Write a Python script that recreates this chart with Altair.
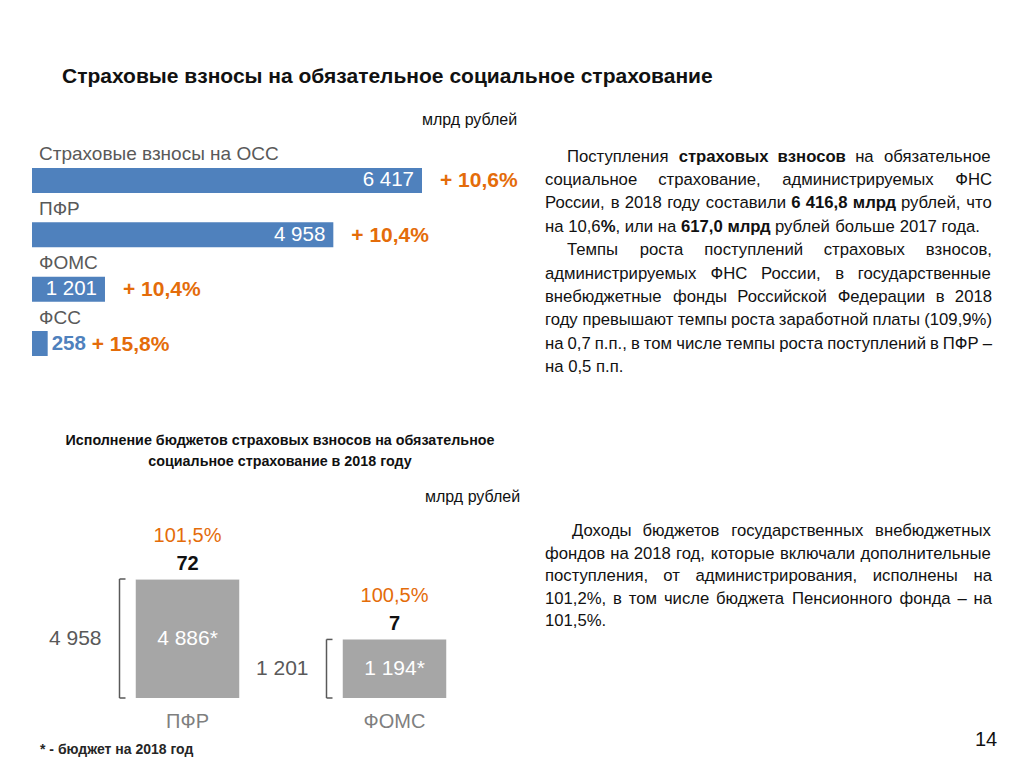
import altair as alt
import pandas as pd

# ---------------- data ----------------
osc_categories = ["Страховые взносы на ОСС", "ПФР", "ФОМС", "ФСС"]
osc_values = [6417, 4958, 1201, 258]
osc_value_labels = ["6 417", "4 958", "1 201", "258"]
osc_growth = ["+ 10,6%", "+ 10,4%", "+ 10,4%", "+ 15,8%"]

fund_names = ["ПФР", "ФОМС"]
fund_budget = [4886, 1194]
fund_extra = [72, 7]
fund_total = [4958, 1201]
fund_budget_labels = ["4 886*", "1 194*"]
fund_total_labels = ["4 958", "1 201"]
fund_execution = ["101,5%", "100,5%"]

# right-hand text, one string per printed line ("**" marks bold)
para_a = [
    "Поступления **страховых взносов** на обязательное",
    "социальное страхование, администрируемых ФНС",
    "России, в 2018 году составили **6 416,8 млрд** рублей, что",
    "на 10,6**%**, или на **617,0 млрд** рублей больше 2017 года.",
]
para_b = [
    "Темпы роста поступлений страховых взносов,",
    "администрируемых ФНС России, в государственные",
    "внебюджетные фонды Российской Федерации в 2018",
    "году превышают темпы роста заработной платы (109,9%)",
    "на 0,7 п.п., в том числе темпы роста поступлений в ПФР –",
    "на 0,5 п.п.",
]
para_c = [
    "Доходы бюджетов государственных внебюджетных",
    "фондов на 2018 год, которые включали дополнительные",
    "поступления, от администрирования, исполнены на",
    "101,2%, в том числе бюджета Пенсионного фонда – на",
    "101,5%.",
]

# ---------------- style ----------------
FONT = "Liberation Sans, Arial, Helvetica, sans-serif"
BLUE = "#4F81BD"
ORANGE = "#E46C0A"
BAR_GRAY = "#A6A6A6"
DARK_GRAY = "#595959"
MID_GRAY = "#7F7F7F"
TXT = "#111111"
OFF = 8  # page margin
BODY_SIZE = 16.7


def P(v):
    return v - OFF


def txt(s, x, y, size, weight="normal", color=TXT, align="left"):
    return alt.Chart(alt.Data(values=[{}])).mark_text(
        text=s, align=align, baseline="middle", fontSize=size,
        fontWeight=weight, color=color, font=FONT
    ).encode(x=alt.value(P(x)), y=alt.value(P(y)))


# approximate advance widths (per 1000 em) for Arial-metric fonts, used to justify lines
_lc = "абвгдеёжзийклмнопрстуфхцчшщъыьэюя"
_uc = "АБВГДЕЁЖЗИЙКЛМНОПРСТУФХЦЧШЩЪЫЬЭЮЯ"
REG = dict(zip(_lc, [556, 573, 531, 365, 583, 556, 556, 669, 458, 559, 559, 438, 583, 688, 552, 556, 542,
                     556, 500, 458, 500, 823, 500, 573, 521, 802, 823, 625, 719, 521, 510, 750, 542]))
REG.update(zip(_uc, [667, 656, 667, 542, 677, 667, 667, 923, 604, 719, 719, 583, 656, 833, 722, 778, 719,
                     667, 722, 611, 635, 760, 667, 740, 667, 917, 938, 792, 885, 656, 719, 1010, 722]))
BOLD = dict(zip(_lc, [556, 604, 563, 406, 615, 556, 556, 833, 510, 615, 615, 490, 615, 729, 615, 611, 615,
                      611, 556, 469, 556, 885, 556, 625, 583, 854, 875, 719, 823, 583, 563, 875, 594]))
BOLD.update({c: REG[c] * 1.05 for c in _uc})
for d in (REG, BOLD):
    d.update({c: 556 for c in "0123456789"})
    d.update({" ": 278, ",": 278, ".": 278, "%": 889, "(": 333, ")": 333, "–": 556, "-": 333})


def tw(s, bold):
    d = BOLD if bold else REG
    return sum(d.get(c, 556) for c in s) * BODY_SIZE / 1000.0


def parse(line):
    runs = [(p, i % 2 == 1) for i, p in enumerate(line.split("**")) if p]
    words, cur = [], []
    for text, b in runs:
        for k, piece in enumerate(text.split(" ")):
            if k > 0 and cur:
                words.append(cur)
                cur = []
            if piece:
                cur.append((piece, b))
    if cur:
        words.append(cur)
    return words


def layout(lines, y0, step, left, indent, right, rows):
    sp = tw(" ", False)
    for i, line in enumerate(lines):
        words = parse(line)
        widths = [sum(tw(t, b) for t, b in w) for w in words]
        start = left + (indent if i == 0 else 0)
        if i == len(lines) - 1 or len(words) == 1:
            gap = sp
        else:
            gap = max((right - start - sum(widths)) / (len(words) - 1), 0.7 * sp)
        x = start
        y = y0 + i * step
        for w, ww in zip(words, widths):
            xx = x
            for t, b in w:
                rows.append({"px": P(xx), "py": P(y), "t": t, "bold": b})
                xx += tw(t, b)
            x += ww + gap


layers = []

# ---------------- headings ----------------
layers.append(txt("Страховые взносы на обязательное социальное страхование", 62, 77, 21, "bold"))
layers.append(txt("млрд рублей", 422, 120, 16))
layers.append(txt("Исполнение бюджетов страховых взносов на обязательное", 280, 441, 14.3, "bold", align="center"))
layers.append(txt("социальное страхование в 2018 году", 280, 462, 14.3, "bold", align="center"))
layers.append(txt("млрд рублей", 425, 497, 16))
layers.append(txt("* - бюджет на 2018 год", 40, 750, 14, "bold", color="#262626"))
layers.append(txt("14", 986, 740, 20, align="center"))

# ---------------- top horizontal bars ----------------
top_df = pd.DataFrame({
    "cat": osc_categories,
    "value": osc_values,
    "vlabel": osc_value_labels,
    "growth": osc_growth,
})
x_top = alt.Scale(domain=[0, max(osc_values)], range=[P(32), P(422)], nice=False, zero=True)
y_top = alt.Scale(domain=osc_categories, range=[P(153.3), P(370.7)], paddingInner=0, paddingOuter=0)
X_T = alt.X("value:Q", scale=x_top, axis=None)
Y_T = alt.Y("cat:N", scale=y_top, axis=None)
base_top = alt.Chart(top_df)

layers.append(base_top.mark_bar(color=BLUE, height=25).encode(x=X_T, y=Y_T))
layers.append(base_top.mark_text(align="left", baseline="middle", dy=-26, fontSize=19,
                                 color=DARK_GRAY, font=FONT)
              .encode(x=alt.value(P(39)), y=Y_T, text="cat:N"))
layers.append(base_top.transform_filter("datum.value >= 1000")
              .mark_text(align="right", baseline="middle", dx=-8, fontSize=20.5, color="white", font=FONT)
              .encode(x=X_T, y=Y_T, text="vlabel:N"))
layers.append(base_top.transform_filter("datum.value < 1000")
              .mark_text(align="left", baseline="middle", dx=4, fontSize=20.5, fontWeight="bold",
                         color=BLUE, font=FONT)
              .encode(x=X_T, y=Y_T, text="vlabel:N"))
layers.append(base_top.transform_filter("datum.value >= 1000")
              .mark_text(align="left", baseline="middle", dx=18, dy=1, fontSize=21, fontWeight="bold",
                         color=ORANGE, font=FONT)
              .encode(x=X_T, y=Y_T, text="growth:N"))
layers.append(base_top.transform_filter("datum.value < 1000")
              .mark_text(align="left", baseline="middle", dx=44, dy=1, fontSize=21, fontWeight="bold",
                         color=ORANGE, font=FONT)
              .encode(x=X_T, y=Y_T, text="growth:N"))

# ---------------- bottom budget columns ----------------
bot_df = pd.DataFrame({
    "fund": fund_names,
    "budget": fund_budget,
    "extra": fund_extra,
    "total": fund_total,
    "blabel": fund_budget_labels,
    "tlabel": fund_total_labels,
    "exec": fund_execution,
})
x_bot = alt.Scale(domain=fund_names, range=[P(84), P(498)], paddingInner=0.5, paddingOuter=0.25)
y_bot = alt.Scale(type="sqrt", domain=[0, max(fund_total)], range=[P(698), P(579)], nice=False, zero=True)
X_B = alt.X("fund:N", scale=x_bot, axis=None)
base_bot = alt.Chart(bot_df).transform_calculate(
    base="0", mid_budget="datum.budget / 4", mid_total="datum.total / 4"
)

layers.append(base_bot.mark_bar(color=BAR_GRAY).encode(
    x=X_B, y=alt.Y("budget:Q", scale=y_bot, axis=None), y2="base:Q"))
layers.append(base_bot.mark_bar(color="#D4D4D4").encode(
    x=X_B, y=alt.Y("budget:Q", scale=y_bot, axis=None), y2="total:Q"))
layers.append(base_bot.mark_text(baseline="middle", dy=-15, fontSize=20, fontWeight="bold",
                                 color=TXT, font=FONT)
              .encode(x=X_B, y=alt.Y("total:Q", scale=y_bot, axis=None), text="extra:Q"))
layers.append(base_bot.mark_text(baseline="middle", dy=-43, fontSize=20, color=ORANGE, font=FONT)
              .encode(x=X_B, y=alt.Y("total:Q", scale=y_bot, axis=None), text="exec:N"))
layers.append(base_bot.mark_text(baseline="middle", fontSize=21, color="white", font=FONT)
              .encode(x=X_B, y=alt.Y("mid_budget:Q", scale=y_bot, axis=None), text="blabel:N"))
layers.append(base_bot.mark_rule(color=DARK_GRAY, strokeWidth=1.5, xOffset=-68)
              .encode(x=X_B, y=alt.Y("total:Q", scale=y_bot, axis=None), y2="base:Q"))
layers.append(base_bot.mark_rule(color=DARK_GRAY, strokeWidth=1.5, xOffset=-68, x2Offset=-62)
              .encode(x=X_B, x2="fund:N", y=alt.Y("total:Q", scale=y_bot, axis=None)))
layers.append(base_bot.mark_rule(color=DARK_GRAY, strokeWidth=1.5, xOffset=-68, x2Offset=-62)
              .encode(x=X_B, x2="fund:N", y=alt.Y("base:Q", scale=y_bot, axis=None)))
layers.append(base_bot.mark_text(align="right", baseline="middle", dx=-86, fontSize=21,
                                 color=DARK_GRAY, font=FONT)
              .encode(x=X_B, y=alt.Y("mid_total:Q", scale=y_bot, axis=None), text="tlabel:N"))
layers.append(base_bot.mark_text(baseline="middle", fontSize=20, color=MID_GRAY, font=FONT)
              .encode(x=X_B, y=alt.value(P(722)), text="fund:N"))

# ---------------- right-hand justified text ----------------
rows = []
layout(para_a, 156.5, 23.4, 545, 22, 992, rows)
layout(para_b, 156.5 + 4 * 23.4, 23.4, 545, 22, 992, rows)
layout(para_c, 531, 22.6, 545, 27, 992, rows)
body_df = pd.DataFrame(rows)
for is_bold in (False, True):
    layers.append(
        alt.Chart(body_df).transform_filter(f"datum.bold == {str(is_bold).lower()}")
        .mark_text(align="left", baseline="middle", fontSize=BODY_SIZE,
                   fontWeight="bold" if is_bold else "normal", color=TXT, font=FONT)
        .encode(x=alt.X("px:Q", scale=None, axis=None), y=alt.Y("py:Q", scale=None, axis=None), text="t:N")
    )

chart = (
    alt.layer(*layers)
    .resolve_scale(x="independent", y="independent")
    .properties(width=1008, height=751, padding=0, autosize=alt.AutoSizeParams(type="none"),
                background="white")
    .configure_view(strokeWidth=0)
)

chart.save("out.html", embed_options={"renderer": "svg", "actions": False})
